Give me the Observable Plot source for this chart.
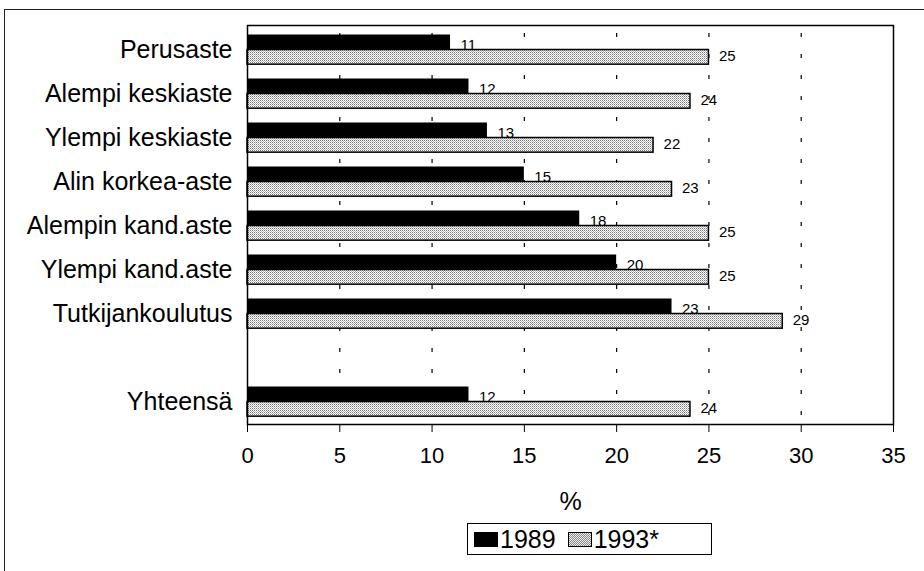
<!DOCTYPE html>
<html>
<head>
<meta charset="utf-8">
<script src="https://cdn.jsdelivr.net/npm/d3@7"></script>
<script src="https://cdn.jsdelivr.net/npm/@observablehq/plot@0.6"></script>
<style>
  html, body { margin: 0; padding: 0; background: #fff; overflow: hidden; }
  body { width: 924px; height: 571px; position: relative; font-family: "Liberation Sans", Arial, sans-serif; }
  #outer { position: absolute; left: 4px; top: 9px; width: 1000px; height: 1000px;
           border-left: 1.5px solid #222; border-top: 1.5px solid #222; pointer-events: none; }
  #chart svg { display: block; }
  #chart [aria-label="y-axis tick label"] text { font-size: 25px !important; }
  #chart [aria-label="x-axis tick label"] text { font-size: 22px !important; }
  #legend { margin-left: 467px; margin-top: 3px; width: 245px; height: 32px; border: 1.5px solid #000;
            display: flex; align-items: center; font-size: 25px; color: #000; box-sizing: border-box; }
  .sw { display: inline-block; width: 24px; height: 15px; border: 1.5px solid #000; box-sizing: border-box; }
</style>
</head>
<body>
<div id="chart"></div>
<div id="legend"></div>
<div id="outer"></div>
<script>
// ---- data ----
const categories = ["Perusaste", "Alempi keskiaste", "Ylempi keskiaste", "Alin korkea-aste",
  "Alempin kand.aste", "Ylempi kand.aste", "Tutkijankoulutus", "Yhteensä"];
const values1989 = [11, 12, 13, 15, 18, 20, 23, 12];
const values1993 = [25, 24, 22, 23, 25, 25, 29, 24];
const series = ["1989", "1993*"];
const xTicks = [0, 5, 10, 15, 20, 25, 30, 35];
const axisLabel = "%";

// band domain with an empty row before the total
const yDomain = [...categories.slice(0, 7), " ", categories[7]];
const data1989 = categories.map((c, i) => ({category: c, value: values1989[i], series: series[0]}));
const data1993 = categories.map((c, i) => ({category: c, value: values1993[i], series: series[1]}));
const gridTicks = xTicks.filter(t => t > xTicks[0] && t < xTicks[xTicks.length - 1]);

const W = 924, H = 520, mT = 25, mB = 96, mL = 247, mR = 31;
const step = (H - mT - mB) / yDomain.length;
const barH = 15, gapTop = 7.5;

const plot = Plot.plot({
  width: W, height: H,
  marginTop: mT, marginBottom: mB, marginLeft: mL, marginRight: mR,
  style: {fontFamily: "'Liberation Sans', Arial, sans-serif", fontSize: "22px", color: "#000", background: "transparent"},
  x: {domain: [xTicks[0], xTicks[xTicks.length - 1]], ticks: xTicks, tickSize: 8, tickPadding: 15, label: null},
  y: {domain: yDomain, padding: 0, tickSize: 0, tickPadding: 15, label: null},
  marks: [
    Plot.ruleX(gridTicks, {stroke: "#000", strokeWidth: 1.2, strokeDasharray: "4,17", strokeDashoffset: -8}),
    Plot.barX(data1989, {x: "value", y: "category", fill: "#000",
      insetTop: gapTop, insetBottom: step - gapTop - barH}),
    Plot.barX(data1993, {x: "value", y: "category", fill: "url(#dots)", stroke: "#000", strokeWidth: 1.5,
      insetTop: gapTop + barH, insetBottom: step - gapTop - 2 * barH}),
    Plot.text(data1989, {x: "value", y: "category", text: d => String(d.value), dx: 10, dy: -4,
      textAnchor: "start", fontSize: 15, fill: "#000"}),
    Plot.text(data1993, {x: "value", y: "category", text: d => String(d.value), dx: 10, dy: 6.5,
      textAnchor: "start", fontSize: 15, fill: "#000"}),
    Plot.text([axisLabel], {frameAnchor: "bottom", dy: 85, fontSize: 25, fill: "#000"}),
    Plot.frame({stroke: "#000", strokeWidth: 1.5})
  ]
});

// dotted pattern for the 1993* bars
const defs = d3.select(plot).insert("defs", ":first-child");
const pat = defs.append("pattern").attr("id", "dots").attr("patternUnits", "userSpaceOnUse")
  .attr("width", 2).attr("height", 2);
pat.append("rect").attr("width", 2).attr("height", 2).attr("fill", "#fff");
pat.append("rect").attr("x", 0).attr("y", 0).attr("width", 1).attr("height", 1).attr("fill", "#777");
pat.append("rect").attr("x", 1).attr("y", 1).attr("width", 1).attr("height", 1).attr("fill", "#bbb");

document.getElementById("chart").appendChild(plot);

// legend
const legend = document.getElementById("legend");
const mk = (fill, label, ml) => {
  const s = document.createElement("span");
  s.className = "sw";
  s.style.background = fill;
  s.style.marginLeft = ml + "px";
  const t = document.createElement("span");
  t.textContent = label;
  t.style.marginLeft = "2px";
  legend.appendChild(s); legend.appendChild(t);
};
mk("#000", series[0], 6);
mk("repeating-conic-gradient(#888 0 25%, #eee 0 50%) 0 0 / 2px 2px", series[1], 12);
</script>
</body>
</html>
